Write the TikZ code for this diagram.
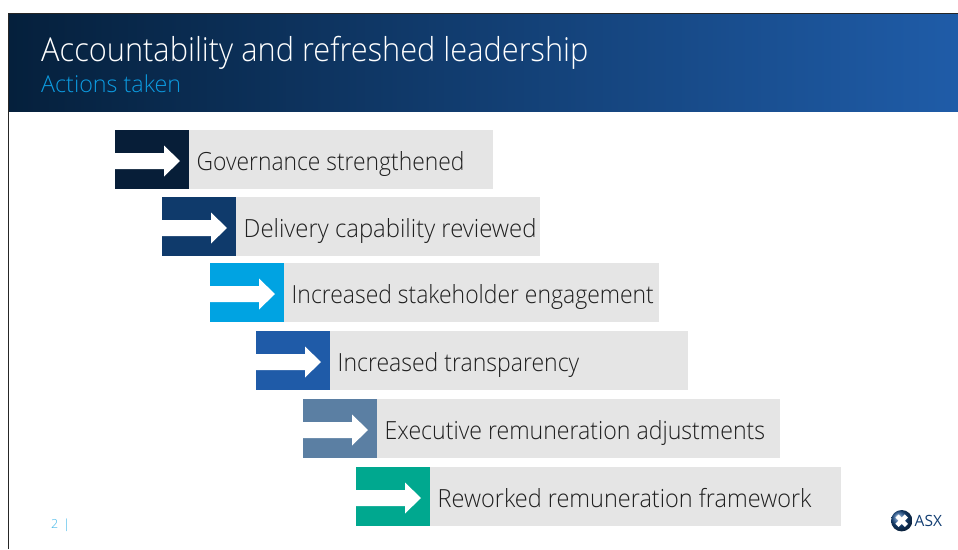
\documentclass[tikz,border=0pt]{standalone}
\usepackage{fontspec}
\usepackage{graphicx}
\setmainfont{Open Sans Light}
\newfontfamily\logofont{Open Sans}
\newfontfamily\titlefont[FakeStretch=0.932]{Open Sans Light}
\newfontfamily\barfont[FakeStretch=0.91]{Open Sans Light}
\usetikzlibrary{shadings}
\definecolor{hdA}{HTML}{05203C}
\definecolor{hdB}{HTML}{1F5CA8}
\definecolor{subblue}{HTML}{0C9ADF}
\definecolor{pagenum}{HTML}{3DB5E8}
\definecolor{barfill}{HTML}{E5E5E5}
\definecolor{cA}{HTML}{071E38}
\definecolor{cB}{HTML}{0F3A6B}
\definecolor{cC}{HTML}{00A3E2}
\definecolor{cD}{HTML}{1F5BA8}
\definecolor{cE}{HTML}{5B7FA3}
\definecolor{cF}{HTML}{00A88F}
\definecolor{logoblue}{HTML}{1A4E8C}
\definecolor{logotext}{HTML}{143F73}
\tikzset{
  x=1pt,y=-1pt,
  barbox/.style={fill=barfill,draw=none,inner sep=0pt,outer sep=0pt,anchor=north west,minimum height=59pt},
  iconbox/.style={draw=none,inner sep=0pt,outer sep=0pt,anchor=north west,minimum width=74pt,minimum height=59pt},
  bartext/.style={anchor=base west,inner sep=0pt,font=\barfont\fontsize{25}{30}\selectfont,text=black!88},
  whitearrow/.style={fill=white,draw=none}
}
\newcommand{\barrow}[7]{% name, x, y, right, colour, text, horizontal fit
  \node[barbox,minimum width=#4pt-#2pt] (#1bar) at (#2,#3) {};
  \node[iconbox,fill=#5] (#1icon) at (#2,#3) {};
  \fill[whitearrow] ([yshift=-1.5pt]#1icon.west) ++(0,-8) -- ++(49,0) -- ++(0,-7.5) -- ++(16,15.5) -- ++(-16,15.5) -- ++(0,-7.5) -- ++(-49,0) -- cycle;
  \node[bartext] (#1text) at ([xshift=7.5pt,yshift=-10.5pt]#1icon.east) {\scalebox{#7}[1]{#6}};
}
\begin{document}
\begin{tikzpicture}
\useasboundingbox (0,0) rectangle (958,549);
\fill[white] (0,0) rectangle (958,549);
\shade[left color=hdA,right color=hdB] (9,14) rectangle (958,111.7);
\draw[black!85,line width=1.5pt] (8.5,549) -- (8.5,13.5) -- (958,13.5);
\node[anchor=base west,inner sep=0pt,text=white,font=\titlefont\fontsize{33}{38}\selectfont] (title) at (41,61) {Accountability and refreshed leadership};
\node[anchor=base west,inner sep=0pt,text=subblue,font=\fontsize{23.3}{28}\selectfont] (subtitle) at (41,92) {Actions taken};
\barrow{a}{115}{130}{493}{cA}{Governance strengthened}{1.004}
\barrow{b}{162}{197}{540}{cB}{Delivery capability reviewed}{1.05}
\barrow{c}{210}{263}{659}{cC}{Increased stakeholder engagement}{1.008}
\barrow{d}{256}{331}{688}{cD}{Increased transparency}{1.012}
\barrow{e}{303}{399}{780}{cE}{Executive remuneration adjustments}{1.016}
\barrow{f}{356}{467}{841}{cF}{Reworked remuneration framework}{1.033}
\node[anchor=base west,inner sep=0pt,text=pagenum,font=\fontsize{12.5}{14}\selectfont] (pagenum) at (51,528) {2\hspace{5pt}|};
\shade[ball color=logoblue] (901.7,520.7) circle (10.7);
\draw[white,line width=4.5pt] (897,516) -- (906.4,525.4) (906.4,516) -- (897,525.4);
\node[anchor=base west,inner sep=0pt,text=logotext,font=\logofont\fontsize{15.5}{18}\selectfont] (logo) at (914.5,526.7) {ASX};
\end{tikzpicture}
\end{document}
